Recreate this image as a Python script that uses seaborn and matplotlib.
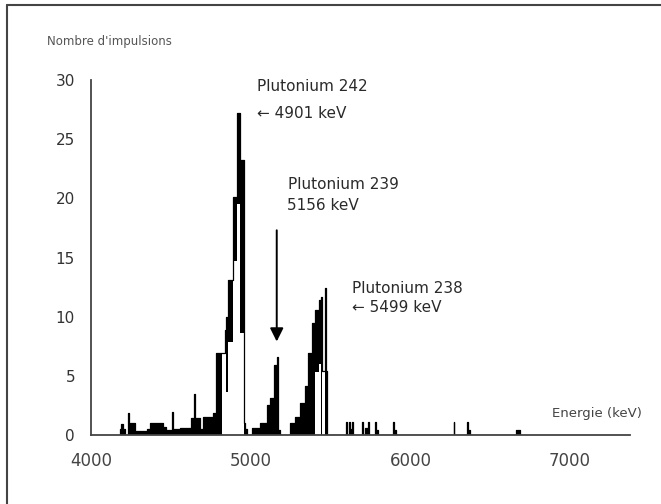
import numpy as np
import pandas as pd
import matplotlib
matplotlib.use("Agg")
import matplotlib.pyplot as plt
from matplotlib.lines import Line2D
import seaborn as sns

# ---- data (energy in keV, counts) ----
seg_start = [4180, 4188, 4200, 4234, 4245, 4275, 4350, 4370, 4450, 4470, 4507, 4512, 4560,
             4625, 4648, 4654, 4685, 4700, 4765, 4785, 4818, 4838, 4843, 4858, 4890, 4915,
             4932, 4955, 4962, 5005, 5060, 5100, 5120, 5145, 5167, 5172, 5246, 5277, 5309,
             5340, 5361, 5382, 5403, 5425, 5442, 5446, 5464, 5468, 5472, 5595, 5618, 5624,
             5634, 5698, 5715, 5735, 5778, 5783, 5890, 5895, 6272, 6355, 6360, 6660]
seg_end = [4188, 4200, 4212, 4239, 4275, 4350, 4370, 4450, 4470, 4507, 4512, 4560, 4625,
           4648, 4654, 4685, 4700, 4765, 4785, 4818, 4838, 4843, 4858, 4890, 4915, 4932,
           4955, 4962, 4975, 5060, 5100, 5120, 5145, 5167, 5172, 5185, 5277, 5309, 5340,
           5361, 5382, 5403, 5425, 5442, 5446, 5464, 5468, 5472, 5478, 5601, 5624, 5634,
           5640, 5704, 5735, 5741, 5783, 5800, 5895, 5912, 6276, 6360, 6372, 6685]
seg_lo = [0, 0, 0, 0, 0, 0, 0, 0, 0, 0, 0, 0, 0,
          0, 0, 0, 0, 0, 0, 0, 6.9, 6.9, 3.6, 7.9, 14.7, 19.5,
          8.6, 0, 0, 0, 0, 0, 0, 0, 0, 0, 0, 0, 0,
          0, 0, 0, 5.3, 6.0, 0, 5.4, 0, 0, 0, 0, 0, 0,
          0, 0, 0, 0, 0, 0, 0, 0, 0, 0, 0, 0]
seg_hi = [0.5, 0.9, 0.5, 1.9, 1.0, 0.35, 0.5, 1.0, 0.7, 0.4, 1.95, 0.5, 0.6,
          1.4, 3.5, 1.4, 0.5, 1.5, 1.9, 6.9, 6.9, 8.9, 10.0, 13.1, 20.1, 27.2,
          23.2, 1.0, 0.5, 0.6, 1.0, 2.5, 3.1, 5.9, 6.6, 0.4, 1.0, 1.5, 2.7,
          4.1, 6.9, 9.5, 10.6, 11.4, 11.7, 5.4, 5.4, 12.4, 5.4, 1.1, 1.1, 0.5,
          1.1, 1.1, 0.6, 1.1, 1.1, 0.4, 1.1, 0.4, 1.1, 1.1, 0.4, 0.4]

x_ticks = [4000, 5000, 6000, 7000]
y_ticks = [0, 5, 10, 15, 20, 25, 30]

peak_names = ["Plutonium 242", "Plutonium 239", "Plutonium 238"]
peak_energy_labels = ["\u2190 4901 keV", "5156 keV", "\u2190 5499 keV"]
peak_name_pos = [(5039, 29.45), (5235, 21.2), (5632, 12.4)]
peak_energy_pos = [(5042, 27.2), (5225, 19.4), (5632, 10.8)]
arrow_x = 5163
arrow_from_y = 17.3
arrow_to_y = 7.9

# ---- build step polygon ----
xs, ylo, yhi = [], [], []
n = len(seg_start)
for i in range(n):
    s, e, lo, hi = seg_start[i], seg_end[i], seg_lo[i], seg_hi[i]
    if i == 0 or s != seg_end[i - 1]:
        xs.append(s); ylo.append(0); yhi.append(0)
    xs += [s, e]; ylo += [lo, lo]; yhi += [hi, hi]
    if i == n - 1 or seg_start[i + 1] != e:
        xs.append(e); ylo.append(0); yhi.append(0)
df = pd.DataFrame({"energy": xs, "lo": ylo, "hi": yhi})

sns.set_style("white")
plt.rcParams["font.family"] = ["DejaVu Sans"]

fig = plt.figure(figsize=(6.61, 5.04), dpi=100)
ax = fig.add_axes([91 / 661, 69 / 504, 539 / 661, 355 / 504])

ax.fill_between(df["energy"], df["lo"], df["hi"], color="black", linewidth=0)
sns.lineplot(data=df, x="energy", y="hi", sort=False, estimator=None,
             color="black", linewidth=0.9, ax=ax)

ax.set_xlim(4000, 7375)
ax.set_ylim(0, 30)
ax.set_xticks(x_ticks)
ax.set_yticks(y_ticks)
ax.set_xlabel("")
ax.set_ylabel("")
for sp in ["top", "right"]:
    ax.spines[sp].set_visible(False)
for sp in ["left", "bottom"]:
    ax.spines[sp].set_color("#444444")
    ax.spines[sp].set_linewidth(1.3)
ax.tick_params(axis="y", direction="inout", length=13, width=1.2, color="#333333",
               labelsize=11, labelcolor="#333333", pad=5)
ax.tick_params(axis="x", direction="inout", length=9, width=2.0, color="#222222",
               labelsize=12, labelcolor="#444444", pad=8)

for name, (nx, ny) in zip(peak_names, peak_name_pos):
    ax.text(nx, ny, name, ha="left", va="center", fontsize=11, color="#2a2a2a")
for lab, (lx, ly) in zip(peak_energy_labels, peak_energy_pos):
    ax.text(lx, ly, lab, ha="left", va="center", fontsize=11, color="#2a2a2a")

ax.annotate("", xy=(arrow_x, arrow_to_y), xytext=(arrow_x, arrow_from_y),
            arrowprops=dict(arrowstyle="-|>", color="black", lw=1.4,
                            mutation_scale=20, shrinkA=0, shrinkB=0))

fig.text(47 / 661, 1 - 41.5 / 504, "Nombre d'impulsions", fontsize=8.5,
         color="#555555", ha="left", va="center")
fig.text(552 / 661, 1 - 413 / 504, "Energie (keV)", fontsize=9.5,
         color="#444444", ha="left", va="center")

# outer frame (top and left)
fig.add_artist(Line2D([7 / 661, 1.0], [1 - 5 / 504, 1 - 5 / 504],
                      transform=fig.transFigure, color="#444444", lw=1.5))
fig.add_artist(Line2D([7 / 661, 7 / 661], [0.0, 1 - 5 / 504],
                      transform=fig.transFigure, color="#444444", lw=1.5))

fig.savefig("out.png", dpi=100)
